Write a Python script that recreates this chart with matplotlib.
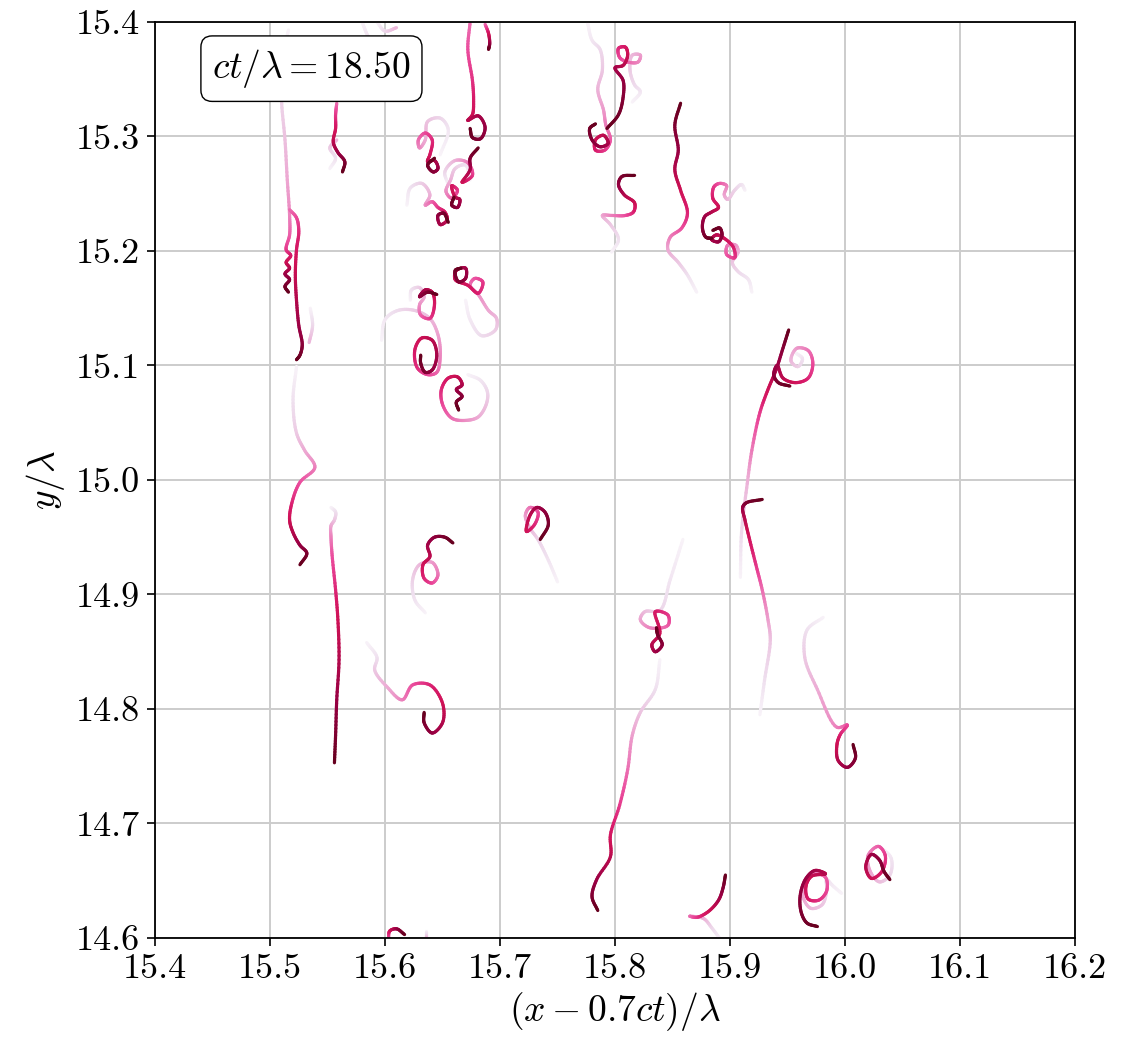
import numpy as np
import matplotlib
matplotlib.use("Agg")
import matplotlib.pyplot as plt
from matplotlib.collections import LineCollection
from matplotlib.ticker import FormatStrFormatter, MultipleLocator

plt.rcParams.update({
    "font.family": "serif",
    "font.serif": ["cmr10"],
    "mathtext.fontset": "cm",
    "axes.unicode_minus": False,
})

CT = 18.50

# particle tracks in (x - 0.7ct)/lambda, y/lambda, oldest point first
path_a = [(15.516, 15.393), (15.511, 15.367), (15.510, 15.332), (15.513, 15.297),
          (15.515, 15.262), (15.517, 15.231), (15.517, 15.214), (15.514, 15.201),
          (15.518, 15.196), (15.514, 15.190), (15.517, 15.185), (15.513, 15.180),
          (15.517, 15.175), (15.513, 15.169), (15.516, 15.164)]
path_b = [(15.517, 15.236), (15.523, 15.229), (15.525, 15.217), (15.523, 15.201),
          (15.522, 15.179), (15.523, 15.157), (15.525, 15.135), (15.528, 15.118),
          (15.526, 15.109), (15.523, 15.105)]
path_c = [(15.523, 15.099), (15.520, 15.070), (15.523, 15.041), (15.530, 15.026),
          (15.539, 15.011), (15.526, 14.998), (15.519, 14.980), (15.517, 14.965),
          (15.520, 14.954), (15.526, 14.943), (15.532, 14.936), (15.526, 14.926)]
path_d = [(15.553, 14.976), (15.557, 14.972), (15.556, 14.965), (15.553, 14.960),
          (15.553, 14.950), (15.554, 14.934), (15.557, 14.904), (15.559, 14.878),
          (15.560, 14.843), (15.558, 14.808), (15.557, 14.777), (15.556, 14.753)]
path_e = [(15.635, 14.884), (15.626, 14.895), (15.624, 14.913), (15.630, 14.926),
          (15.641, 14.928), (15.646, 14.917), (15.641, 14.910), (15.634, 14.914),
          (15.633, 14.926), (15.639, 14.933), (15.637, 14.943), (15.643, 14.950),
          (15.652, 14.950), (15.659, 14.945)]
path_f = [(15.584, 14.858), (15.593, 14.845), (15.591, 14.834), (15.602, 14.819),
          (15.615, 14.808), (15.624, 14.821), (15.639, 14.821), (15.650, 14.805),
          (15.650, 14.788), (15.641, 14.779), (15.634, 14.788), (15.634, 14.797)]
path_g = [(15.603, 14.598), (15.604, 14.606), (15.610, 14.608), (15.617, 14.603)]
path_h = [(15.859, 14.948), (15.848, 14.913), (15.839, 14.886), (15.826, 14.885),
          (15.822, 14.878), (15.830, 14.871), (15.846, 14.873), (15.846, 14.882),
          (15.835, 14.885), (15.839, 14.866), (15.832, 14.856), (15.835, 14.850),
          (15.841, 14.856), (15.837, 14.865), (15.836, 14.871)]
path_i = [(15.839, 14.843), (15.835, 14.817), (15.822, 14.797), (15.815, 14.777),
          (15.811, 14.747), (15.804, 14.716), (15.796, 14.690), (15.796, 14.671),
          (15.784, 14.651), (15.780, 14.636), (15.785, 14.624)]
path_j = [(15.909, 14.915), (15.910, 14.954), (15.915, 14.997), (15.919, 15.026),
          (15.926, 15.059), (15.933, 15.079), (15.940, 15.096), (15.946, 15.115),
          (15.951, 15.131)]
path_k = [(15.957, 15.111), (15.963, 15.106), (15.959, 15.099), (15.953, 15.104),
          (15.958, 15.115), (15.968, 15.113), (15.972, 15.102), (15.968, 15.089),
          (15.957, 15.085), (15.946, 15.089), (15.941, 15.100), (15.938, 15.092),
          (15.942, 15.085), (15.952, 15.082)]
path_l = [(15.926, 14.795), (15.930, 14.825), (15.935, 14.860), (15.933, 14.878),
          (15.928, 14.904), (15.923, 14.924), (15.917, 14.948), (15.913, 14.965),
          (15.911, 14.976), (15.914, 14.980), (15.928, 14.983)]
path_m = [(15.981, 14.880), (15.967, 14.869), (15.965, 14.845), (15.976, 14.817),
          (15.993, 14.784), (16.002, 14.786), (15.996, 14.778), (15.993, 14.769),
          (15.994, 14.755), (16.002, 14.749), (16.009, 14.757), (16.007, 14.769)]
path_n = [(15.893, 14.597), (15.884, 14.609), (15.877, 14.617), (15.865, 14.619),
          (15.871, 14.618), (15.881, 14.623), (15.890, 14.633), (15.894, 14.644),
          (15.896, 14.655)]
path_o = [(15.997, 14.639), (15.989, 14.646), (15.984, 14.651), (15.984, 14.641),
          (15.980, 14.629), (15.970, 14.626), (15.963, 14.638), (15.966, 14.651),
          (15.974, 14.656), (15.983, 14.653), (15.984, 14.641), (15.977, 14.633),
          (15.968, 14.634), (15.966, 14.645), (15.971, 14.654), (15.983, 14.656),
          (15.974, 14.659), (15.966, 14.652), (15.961, 14.637), (15.962, 14.622),
          (15.967, 14.613), (15.976, 14.610)]
path_p = [(16.030, 14.680), (16.040, 14.670), (16.039, 14.655), (16.030, 14.649),
          (16.022, 14.658), (16.020, 14.672), (16.029, 14.680), (16.035, 14.672),
          (16.032, 14.658), (16.023, 14.652), (16.018, 14.662), (16.023, 14.673),
          (16.030, 14.668), (16.034, 14.658), (16.039, 14.651)]
path_q = [(15.750, 14.911), (15.742, 14.930), (15.733, 14.948), (15.726, 14.958),
          (15.722, 14.969), (15.726, 14.976), (15.733, 14.972), (15.730, 14.961),
          (15.723, 14.955), (15.726, 14.969), (15.732, 14.976), (15.739, 14.972),
          (15.742, 14.961), (15.735, 14.948)]
path_r = [(15.558, 15.329), (15.557, 15.319), (15.557, 15.307), (15.555, 15.295),
          (15.559, 15.286), (15.565, 15.278), (15.563, 15.269)]
path_s = [(15.674, 15.400), (15.672, 15.376), (15.676, 15.349), (15.677, 15.332),
          (15.676, 15.319), (15.672, 15.314), (15.681, 15.318), (15.687, 15.308),
          (15.683, 15.298), (15.676, 15.299), (15.674, 15.307)]
path_s2 = [(15.687, 15.398), (15.690, 15.390), (15.691, 15.381), (15.690, 15.376)]
path_t = [(15.655, 15.258), (15.652, 15.269), (15.661, 15.279), (15.672, 15.277),
          (15.676, 15.266), (15.667, 15.260), (15.674, 15.271), (15.674, 15.281),
          (15.681, 15.290)]
path_u = [(15.648, 15.284), (15.655, 15.306), (15.648, 15.316), (15.637, 15.313),
          (15.635, 15.297), (15.630, 15.290), (15.629, 15.297), (15.635, 15.303),
          (15.641, 15.297), (15.639, 15.284), (15.637, 15.278), (15.643, 15.279),
          (15.646, 15.272), (15.642, 15.269), (15.637, 15.275), (15.643, 15.281)]
path_v = [(15.674, 15.262), (15.670, 15.275), (15.661, 15.272), (15.657, 15.262),
          (15.653, 15.252), (15.658, 15.246), (15.663, 15.253), (15.658, 15.257),
          (15.661, 15.247), (15.665, 15.245), (15.663, 15.238), (15.658, 15.240),
          (15.660, 15.247)]
path_w = [(15.619, 15.240), (15.622, 15.255), (15.632, 15.259), (15.639, 15.249),
          (15.635, 15.240), (15.641, 15.243), (15.646, 15.238), (15.652, 15.234),
          (15.654, 15.227), (15.648, 15.223), (15.646, 15.231), (15.651, 15.233),
          (15.655, 15.225)]
path_x = [(15.670, 15.157), (15.674, 15.140), (15.684, 15.126), (15.696, 15.131),
          (15.697, 15.141), (15.690, 15.148), (15.681, 15.162), (15.674, 15.170),
          (15.678, 15.176), (15.685, 15.173), (15.681, 15.163), (15.672, 15.170),
          (15.661, 15.175), (15.662, 15.183), (15.670, 15.185), (15.670, 15.176),
          (15.664, 15.173), (15.661, 15.183), (15.666, 15.185)]
path_y = [(15.597, 15.122), (15.600, 15.140), (15.611, 15.148), (15.626, 15.148),
          (15.639, 15.141), (15.646, 15.127), (15.648, 15.109), (15.645, 15.094),
          (15.637, 15.092), (15.628, 15.098), (15.626, 15.114), (15.632, 15.124),
          (15.641, 15.122), (15.645, 15.109), (15.641, 15.096), (15.635, 15.094),
          (15.631, 15.102), (15.631, 15.109)]
path_z = [(15.622, 15.157), (15.623, 15.166), (15.630, 15.168), (15.634, 15.160),
          (15.630, 15.153), (15.631, 15.144), (15.639, 15.141), (15.643, 15.153),
          (15.641, 15.164), (15.635, 15.166), (15.630, 15.160), (15.637, 15.164),
          (15.645, 15.162)]
path_aa = [(15.672, 15.092), (15.683, 15.087), (15.689, 15.077), (15.688, 15.066),
           (15.681, 15.055), (15.670, 15.052), (15.658, 15.054), (15.650, 15.066),
           (15.649, 15.079), (15.655, 15.089), (15.663, 15.090), (15.667, 15.083),
           (15.662, 15.079), (15.667, 15.073), (15.662, 15.068), (15.664, 15.061)]
path_ab = [(15.776, 15.400), (15.780, 15.384), (15.787, 15.376), (15.789, 15.358),
           (15.785, 15.341), (15.790, 15.323), (15.792, 15.310), (15.796, 15.297),
           (15.791, 15.288), (15.783, 15.288), (15.783, 15.297), (15.790, 15.301),
           (15.794, 15.294), (15.787, 15.291), (15.780, 15.297), (15.778, 15.307),
           (15.783, 15.311)]
path_ac = [(15.815, 15.330), (15.822, 15.339), (15.817, 15.345), (15.813, 15.358),
           (15.815, 15.371), (15.822, 15.371), (15.820, 15.365), (15.811, 15.365),
           (15.804, 15.369), (15.803, 15.377), (15.809, 15.378), (15.811, 15.371),
           (15.807, 15.362), (15.800, 15.360), (15.807, 15.349), (15.807, 15.334),
           (15.803, 15.319), (15.793, 15.307)]
path_ad = [(15.871, 15.164), (15.863, 15.179), (15.855, 15.190), (15.846, 15.201),
           (15.848, 15.212), (15.858, 15.220), (15.863, 15.233), (15.857, 15.253),
           (15.852, 15.271), (15.855, 15.288), (15.852, 15.310), (15.857, 15.329)]
path_ae = [(15.797, 15.199), (15.803, 15.210), (15.796, 15.223), (15.789, 15.231),
           (15.797, 15.231), (15.809, 15.231), (15.816, 15.234), (15.817, 15.242),
           (15.808, 15.249), (15.803, 15.258), (15.806, 15.265), (15.817, 15.266)]
path_af = [(15.919, 15.164), (15.916, 15.175), (15.907, 15.182), (15.902, 15.190),
           (15.907, 15.199), (15.905, 15.205), (15.898, 15.205), (15.897, 15.197),
           (15.904, 15.194), (15.903, 15.203), (15.895, 15.211), (15.888, 15.214),
           (15.884, 15.210), (15.890, 15.208), (15.893, 15.214), (15.891, 15.220),
           (15.885, 15.218)]
path_ag = [(15.913, 15.253), (15.910, 15.258), (15.904, 15.253), (15.898, 15.245),
           (15.895, 15.249), (15.897, 15.257), (15.891, 15.259), (15.886, 15.256),
           (15.885, 15.246), (15.890, 15.238), (15.884, 15.234), (15.878, 15.230),
           (15.876, 15.220), (15.879, 15.212), (15.884, 15.211)]

# short faint remnants of older tracks
ghost_1 = [(15.552, 15.272), (15.557, 15.281), (15.552, 15.290), (15.558, 15.297)]
ghost_2 = [(15.580, 15.400), (15.585, 15.388), (15.592, 15.378), (15.588, 15.372)]
ghost_3 = [(15.593, 15.400), (15.600, 15.392), (15.610, 15.395)]
ghost_4 = [(15.535, 15.150), (15.537, 15.135), (15.534, 15.120)]
ghost_5 = [(15.636, 14.606), (15.636, 14.600)]

full_tracks = [path_a, path_c, path_d, path_e, path_f, path_h, path_i, path_j,
               path_k, path_l, path_m, path_n, path_o, path_p, path_q, path_t,
               path_u, path_v, path_w, path_x, path_y, path_z, path_aa, path_ab,
               path_ac, path_ad, path_ae, path_af, path_ag]
young_tracks = [path_b, path_g, path_r, path_s, path_s2]
ghost_tracks = [ghost_1, ghost_2, ghost_3, ghost_4, ghost_5]

cmap = plt.get_cmap("PuRd")


def smooth_track(pts, sub=10):
    """Centripetal Catmull-Rom curve through the track points.
    Returns the curve and a fractional point index for every vertex."""
    p = np.asarray(pts, dtype=float)
    if len(p) < 3:
        t = np.linspace(0, len(p) - 1, sub * (len(p) - 1) + 1)
        xs = np.interp(t, np.arange(len(p)), p[:, 0])
        ys = np.interp(t, np.arange(len(p)), p[:, 1])
        return np.column_stack([xs, ys]), t
    ext = np.vstack([2 * p[0] - p[1], p, 2 * p[-1] - p[-2]])
    curve, idx = [], []
    for i in range(1, len(ext) - 2):
        p0, p1, p2, p3 = ext[i - 1], ext[i], ext[i + 1], ext[i + 2]
        t0 = 0.0
        t1 = t0 + max(np.hypot(*(p1 - p0)), 1e-9) ** 0.5
        t2 = t1 + max(np.hypot(*(p2 - p1)), 1e-9) ** 0.5
        t3 = t2 + max(np.hypot(*(p3 - p2)), 1e-9) ** 0.5
        last = i == len(ext) - 3
        for j in range(sub + (1 if last else 0)):
            u = j / sub
            t = t1 + (t2 - t1) * u
            a1 = (t1 - t) / (t1 - t0) * p0 + (t - t0) / (t1 - t0) * p1
            a2 = (t2 - t) / (t2 - t1) * p1 + (t - t1) / (t2 - t1) * p2
            a3 = (t3 - t) / (t3 - t2) * p2 + (t - t2) / (t3 - t2) * p3
            b1 = (t2 - t) / (t2 - t0) * a1 + (t - t0) / (t2 - t0) * a2
            b2 = (t3 - t) / (t3 - t1) * a2 + (t - t1) / (t3 - t1) * a3
            curve.append((t2 - t) / (t2 - t1) * b1 + (t - t1) / (t2 - t1) * b2)
            idx.append(i - 1 + u)
    return np.array(curve), np.array(idx)


def track_segments(pts, s0, s1):
    curve, idx = smooth_track(pts)
    frac = idx / (len(pts) - 1)
    segs = np.stack([curve[:-1], curve[1:]], axis=1)
    ages = s0 + (s1 - s0) * 0.5 * (frac[:-1] + frac[1:])
    return list(segs), list(ages)


all_segs, all_ages = [], []
for group, (s0, s1) in [(full_tracks, (0.0, 1.0)),
                        (young_tracks, (0.4, 1.0)),
                        (ghost_tracks, (0.0, 0.25))]:
    for tr in group:
        sg, ag = track_segments(tr, s0, s1)
        all_segs += sg
        all_ages += ag

all_ages = np.array(all_ages)
order = np.argsort(all_ages)
segs = np.array(all_segs)[order]
ages = all_ages[order]

base = cmap(0.3 + 0.7 * ages)[:, :3]
alpha = np.clip(0.14 + 1.5 * ages, 0, 1)[:, None]
colors = 1.0 - alpha * (1.0 - base)   # blend onto white

fig = plt.figure(figsize=(11.4, 10.45), dpi=100)
ax = fig.add_axes([0.136, 0.1024, 0.807, 0.8766])

lc = LineCollection(segs, colors=colors, linewidths=2.3, capstyle="round",
                    zorder=2)
ax.add_collection(lc)

ax.set_xlim(15.4, 16.2)
ax.set_ylim(14.6, 15.4)
ax.xaxis.set_major_locator(MultipleLocator(0.1))
ax.yaxis.set_major_locator(MultipleLocator(0.1))
ax.xaxis.set_major_formatter(FormatStrFormatter("%.1f"))
ax.yaxis.set_major_formatter(FormatStrFormatter("%.1f"))
ax.tick_params(labelsize=26, direction="out", length=6, width=1.2, pad=5)
ax.grid(True, color="#cccccc", linewidth=1.4, zorder=0)
ax.set_axisbelow(True)
for sp in ax.spines.values():
    sp.set_linewidth(1.3)

ax.set_xlabel(r"$(x-0.7ct)/\lambda$", fontsize=27, labelpad=4)
ax.set_ylabel(r"$y/\lambda$", fontsize=27, labelpad=6)

ax.text(0.17, 0.949, r"$ct/\lambda = %.2f$" % CT, transform=ax.transAxes,
        ha="center", va="center", fontsize=27, zorder=5,
        bbox=dict(boxstyle="round,pad=0.3", facecolor="white",
                  edgecolor="black", linewidth=1.0))

fig.savefig("out.png", dpi=100)
